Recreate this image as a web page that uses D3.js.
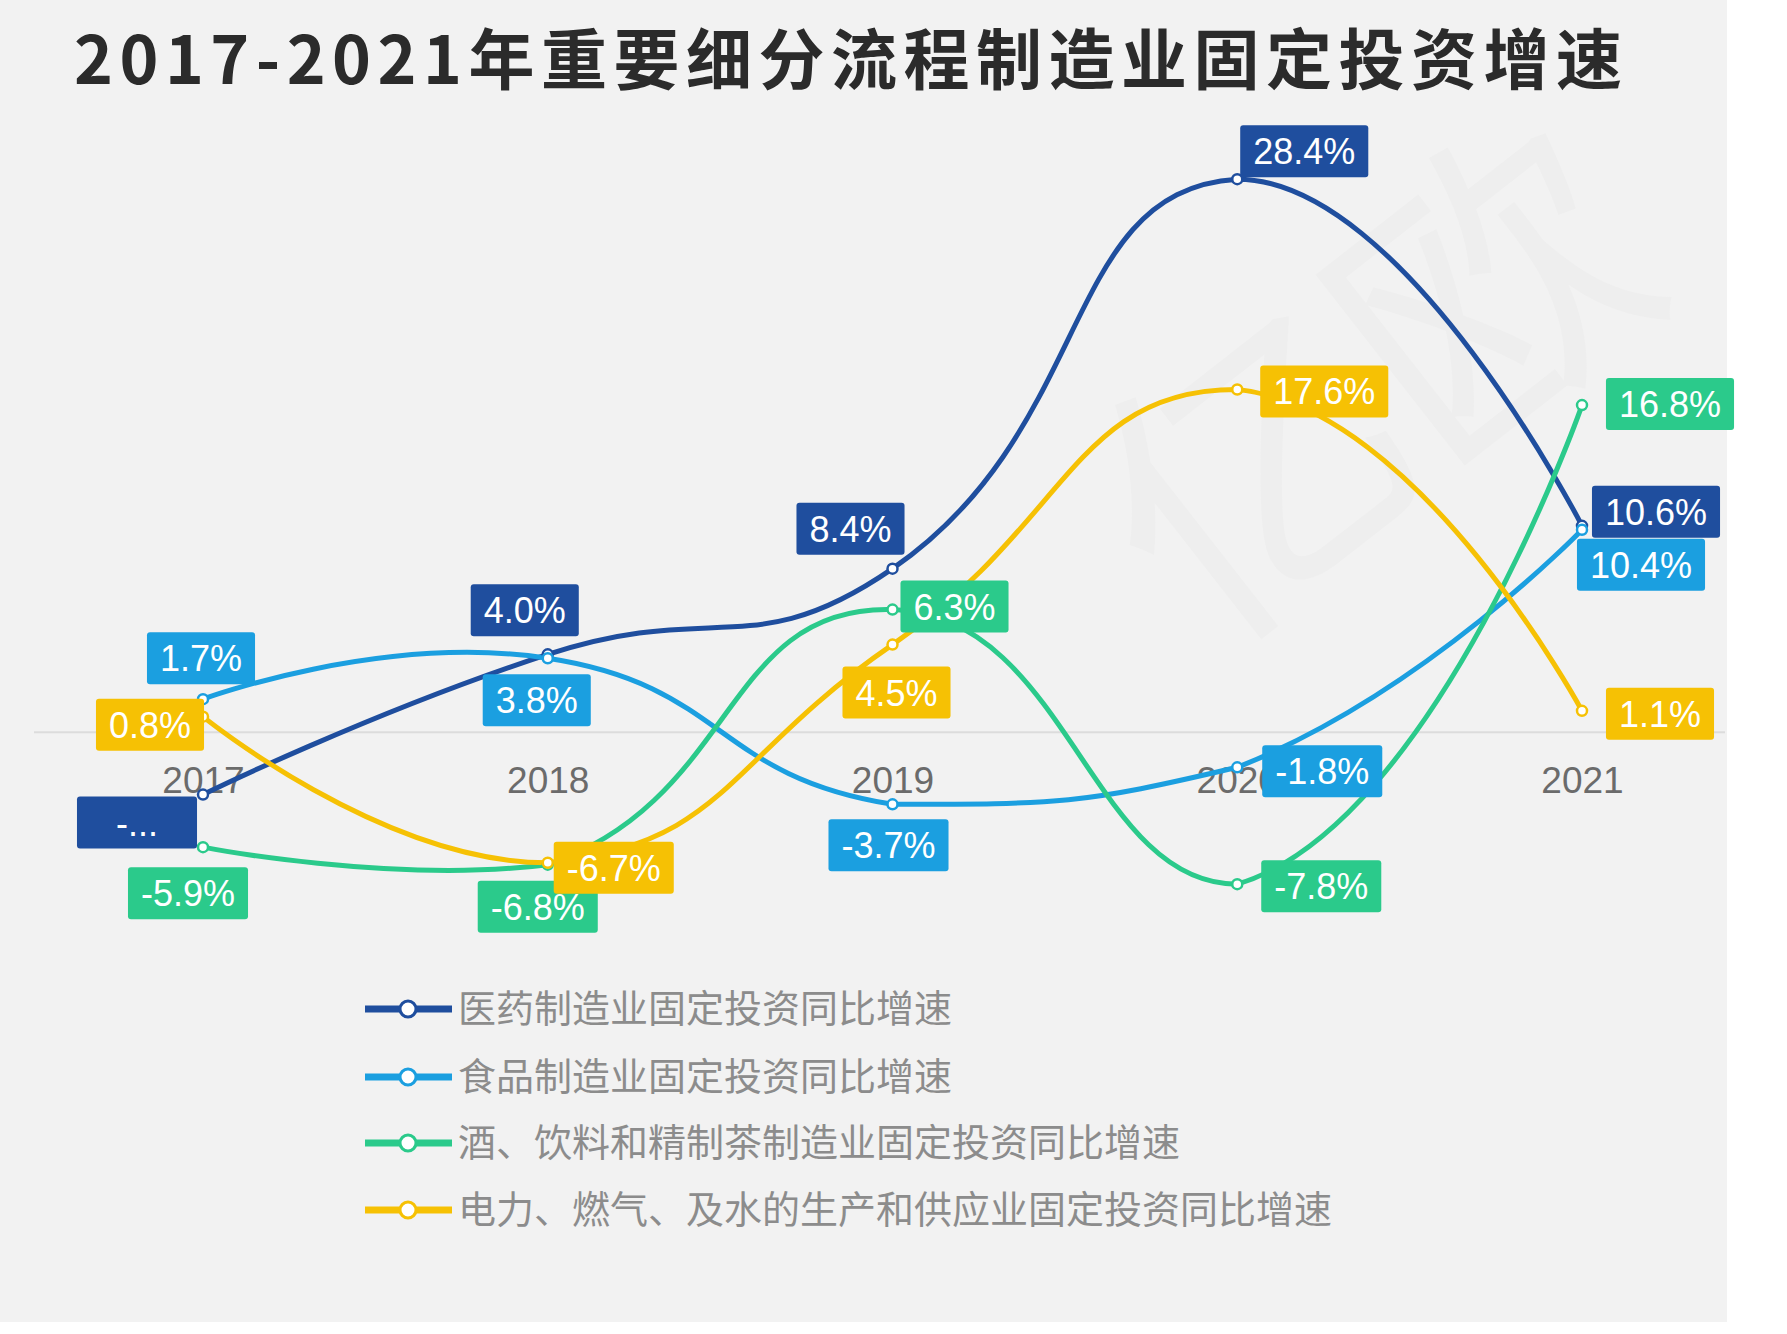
<!DOCTYPE html>
<html>
<head>
<meta charset="utf-8">
<title>2017-2021年重要细分流程制造业固定投资增速</title>
<script src="https://d3js.org/d3.v7.min.js"></script>
<style>
  body { margin: 0; background: #fff; }
  svg { display: block; }
</style>
</head>
<body>
<svg width="1787" height="1334"></svg>
<script>
const years = ["2017", "2018", "2019", "2020", "2021"];
const seriesNames = [
  "医药制造业固定投资同比增速",
  "食品制造业固定投资同比增速",
  "酒、饮料和精制茶制造业固定投资同比增速",
  "电力、燃气、及水的生产和供应业固定投资同比增速"
];
const pharma  = [-3.2, 4.0, 8.4, 28.4, 10.6];
const food    = [1.7, 3.8, -3.7, -1.8, 10.4];
const drinks  = [-5.9, -6.8, 6.3, -7.8, 16.8];
const utility = [0.8, -6.7, 4.5, 17.6, 1.1];
const seriesValues = [pharma, food, drinks, utility];
const colors = ["#1f4e9e", "#1b9fe0", "#2bca8b", "#f6c104"];

// the first pharma label is cut off in the original
const truncated = [[0, 0]];

// label box centre, relative to its point
const labelShift = [
  [[-66, 28], [-23, -44], [-42, -40], [67, -28], [74, -14]],
  [[-2, -41], [-11, 42], [-4, 41], [85, 4], [59, 35]],
  [[-15, 46], [-10, 42], [62, -3], [84, 2], [88, -1]],
  [[-53, 8], [66, 5], [4, 48], [87, 2], [78, 3]]
];

const svg = d3.select("svg");

svg.append("rect").attr("width", 1727).attr("height", 1322).attr("fill", "#f2f2f2");

// faint watermark
svg.append("text")
  .attr("transform", "translate(1440,470) rotate(-38)")
  .attr("text-anchor", "middle")
  .attr("font-family", "Noto Sans CJK SC")
  .attr("font-size", 300)
  .attr("fill", "#eeeeee")
  .text("亿欧");

svg.append("text")
  .attr("x", 74).attr("y", 84)
  .attr("font-family", "Noto Sans CJK SC")
  .attr("font-weight", "bold")
  .attr("font-size", 66)
  .attr("letter-spacing", 6.5)
  .attr("fill", "#2b2b2b")
  .text("2017-2021年重要细分流程制造业固定投资增速");

const x = d3.scalePoint().domain(years).range([203, 1582]);
const y = d3.scaleLinear().domain([-10, 30]).range([927, 148]);

svg.append("line")
  .attr("x1", 34).attr("x2", 1725)
  .attr("y1", y(0)).attr("y2", y(0))
  .attr("stroke", "#dcdcdc").attr("stroke-width", 2);

const axis = svg.append("g")
  .attr("transform", `translate(0,${y(0)})`)
  .call(d3.axisBottom(x).tickSize(0));
axis.select(".domain").remove();
axis.selectAll("text")
  .attr("y", 48).attr("dy", "0.35em")
  .attr("font-family", "Liberation Sans, Arial, sans-serif")
  .attr("font-size", 37)
  .attr("fill", "#6b6b6b");

// echarts-like smoothing (smooth 0.5, constrained to the series box)
function smoothPath(pts, smooth) {
  const minX = d3.min(pts, p => p[0]), maxX = d3.max(pts, p => p[0]);
  const minY = d3.min(pts, p => p[1]), maxY = d3.max(pts, p => p[1]);
  const cx = v => Math.max(minX, Math.min(maxX, v));
  const cy = v => Math.max(minY, Math.min(maxY, v));
  const p = d3.path();
  p.moveTo(pts[0][0], pts[0][1]);
  let cp0 = pts[0];
  for (let i = 1; i < pts.length; i++) {
    const [px, py] = pts[i];
    const prev = pts[i - 1];
    if (i === pts.length - 1) {
      p.bezierCurveTo(cp0[0], cp0[1], px, py, px, py);
      break;
    }
    const next = pts[i + 1];
    const vx = next[0] - prev[0], vy = next[1] - prev[1];
    const lenPrev = Math.hypot(px - prev[0], py - prev[1]);
    const lenNext = Math.hypot(next[0] - px, next[1] - py);
    const ratio = lenNext / (lenNext + lenPrev);
    const cp1 = [cx(px - vx * smooth * (1 - ratio)), cy(py - vy * smooth * (1 - ratio))];
    p.bezierCurveTo(cp0[0], cp0[1], cp1[0], cp1[1], px, py);
    cp0 = [cx(px + vx * smooth * ratio), cy(py + vy * smooth * ratio)];
  }
  return p.toString();
}

const lines = svg.append("g");
seriesValues.forEach((vals, s) => {
  const pts = vals.map((v, i) => [x(years[i]), y(v)]);
  lines.append("path")
    .attr("d", smoothPath(pts, 0.5))
    .attr("fill", "none")
    .attr("stroke", colors[s])
    .attr("stroke-width", 5);
});

seriesValues.forEach((vals, s) => {
  svg.append("g").selectAll("circle")
    .data(vals)
    .join("circle")
      .attr("cx", (d, i) => x(years[i]))
      .attr("cy", d => y(d))
      .attr("r", 5)
      .attr("fill", "#fff")
      .attr("stroke", colors[s])
      .attr("stroke-width", 2.5);
});

const labels = svg.append("g")
  .attr("font-family", "Liberation Sans, Arial, sans-serif")
  .attr("font-size", 36);
seriesValues.forEach((vals, s) => {
  vals.forEach((v, i) => {
    const cxp = x(years[i]) + labelShift[s][i][0];
    const cyp = y(v) + labelShift[s][i][1];
    const g = labels.append("g");
    const rect = g.append("rect").attr("fill", colors[s]).attr("rx", 3);
    const full = v.toFixed(1) + "%";
    const t = g.append("text")
      .attr("x", cxp).attr("y", cyp)
      .attr("text-anchor", "middle")
      .attr("dy", "0.36em")
      .attr("fill", "#fff")
      .text(full);
    const w = t.node().getComputedTextLength() + 26;
    if (truncated.some(k => k[0] === s && k[1] === i)) t.text("-...");
    rect.attr("x", cxp - w / 2).attr("y", cyp - 26).attr("width", w).attr("height", 52);
  });
});

const legend = svg.append("g");
const legendY = [1009, 1077, 1143, 1210];
seriesNames.forEach((name, s) => {
  const g = legend.append("g").attr("transform", `translate(0,${legendY[s]})`);
  g.append("line").attr("x1", 365).attr("x2", 452)
    .attr("stroke", colors[s]).attr("stroke-width", 7);
  g.append("circle").attr("cx", 408).attr("r", 8)
    .attr("fill", "#fff").attr("stroke", colors[s]).attr("stroke-width", 3);
  g.append("text").attr("x", 458).attr("dy", "0.35em")
    .attr("font-family", "Noto Sans CJK SC")
    .attr("font-size", 38)
    .attr("fill", "#8c8c8c")
    .text(name);
});
</script>
</body>
</html>
